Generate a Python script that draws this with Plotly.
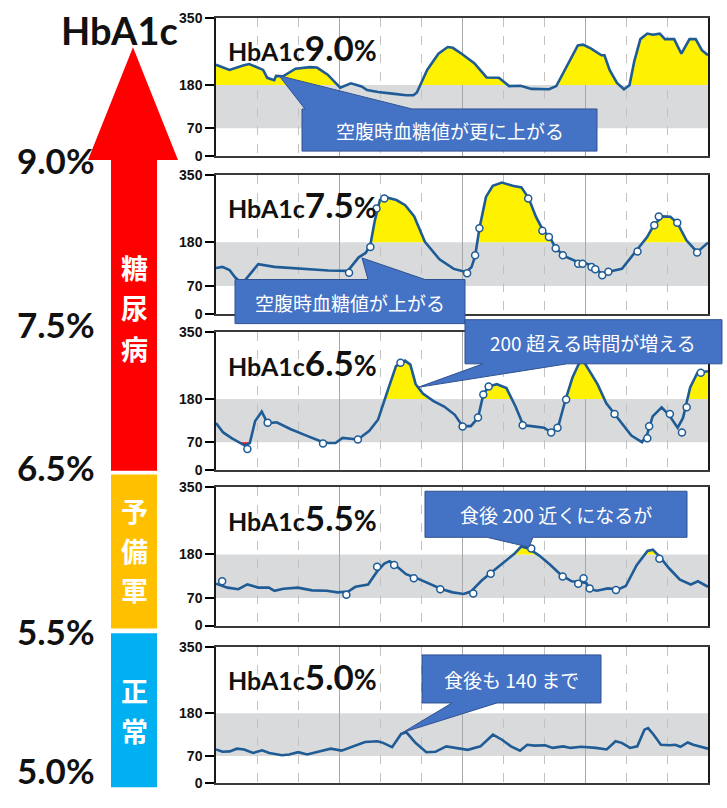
import plotly.graph_objects as go

# ---------------- data (hour of day, glucose mg/dL) ----------------
p1_hour = [0, 0.66, 1.36, 1.62, 2.3, 2.5, 2.84, 2.93, 3.27, 3.88, 4.58, 4.93, 5.45, 6.06, 6.58, 7.1, 7.37, 7.9, 8.6, 9.28,
           9.63, 9.8, 10.3, 10.85, 11.3, 11.55, 11.98, 12.6, 13.2, 13.8, 14.3, 14.86, 15.38, 16.25, 16.6, 17.1, 17.65,
           17.9, 18.3, 18.8, 18.95, 19.2, 19.56, 19.9, 20.17, 20.4, 20.7, 21.04, 21.3, 21.65, 21.9, 22.35, 22.7, 23.1,
           23.4, 23.7, 24]
p1_glucose = [231, 218, 230, 233, 218, 198, 192, 203, 202, 221, 225, 224, 206, 173, 184, 176, 167, 162, 158, 154,
              154, 161, 218, 259, 276, 274, 259, 235, 199, 198, 177, 178, 170, 169, 177, 226, 280,
              282, 272, 255, 255, 218, 185, 169, 179, 239, 296, 310, 307, 310, 296, 296, 259, 296,
              296, 268, 255]
p1_mark_hour = []
p1_mark_glucose = []

p2_hour = [0, 0.31, 0.66, 0.93, 1.28, 1.66, 2.06, 2.85, 3.72, 4.6, 5.47, 6.43, 6.96, 7.3, 7.53, 7.74, 8.0, 8.36, 8.8,
           9.23, 9.67, 10.19, 10.9, 11.6, 12.2, 12.46, 12.64, 12.85, 13.17, 13.5, 13.95, 14.47, 14.9, 15.26, 15.6,
           15.96, 16.28, 16.57, 17.0, 17.53, 17.88, 18.4, 18.58, 18.84, 19.1, 19.8, 20.5, 21.03, 21.38, 21.8, 22.16,
           22.5, 22.95, 23.47, 24]
p2_glucose = [115, 118, 110, 92, 76, 100, 125, 118, 115, 111, 109, 108, 142, 153, 173, 233, 287, 292, 286,
              273, 245, 181, 137, 113, 105, 117, 145, 215, 294, 322, 330, 322, 318, 290, 245,
              209, 193, 165, 145, 133, 129, 121, 113, 97, 105, 113, 157, 193, 225, 245, 244,
              229, 185, 155, 179]
p2_mark_hour = [6.49, 7.53, 7.83, 8.21, 12.25, 12.64, 12.85, 15.23, 15.92, 16.24, 16.57, 16.92, 17.67, 17.88, 18.32,
                18.5, 18.84, 19.14, 20.56, 21.38, 21.6, 22.5, 23.47]
p2_mark_glucose = [103, 168, 265, 290, 102, 147, 215, 290, 209, 193, 165, 147, 126, 126, 118,
                   112, 97, 106, 157, 223, 245, 229, 154]

p3_hour = [0, 0.35, 0.78, 1.22, 1.39, 1.65, 1.91, 2.23, 2.4, 2.52, 2.96, 3.65, 4.35, 5.04, 5.48, 5.83, 6.17, 6.92,
           7.48, 7.91, 8.35, 8.78, 9.22, 9.48, 9.74, 10.09, 10.61, 11.13, 11.65, 12.03, 12.43, 12.78, 13.04, 13.3,
           13.7, 14.17, 14.61, 14.99, 15.39, 16.0, 16.35, 16.7, 17.04, 17.39, 17.83, 18.17, 18.61, 19.04, 19.65,
           20.26, 20.78, 21.04, 21.3, 21.74, 22.09, 22.52, 22.78, 23.13, 23.48, 24]
p3_glucose = [119, 95, 80, 66, 62, 68, 124, 148, 128, 118, 121, 103, 88, 74, 68, 68, 81, 77,
              99, 128, 198, 264, 278, 268, 218, 194, 175, 161, 140, 111, 111, 132, 192, 212,
              218, 208, 161, 113, 111, 107, 95, 111, 177, 235, 285, 255, 218, 169, 128,
              87, 70, 91, 136, 159, 140, 107, 132, 210, 247, 251]
p3_mark_hour = [1.53, 2.52, 5.22, 6.92, 9.0, 12.03, 12.78, 13.04, 13.3, 14.96, 16.35, 16.66, 17.08, 19.44, 21.04,
                21.13, 22.14, 22.73, 22.96, 23.65]
p3_mark_glucose = [53, 120, 67, 77, 273, 110, 133, 192, 212, 113, 95, 107, 179, 142, 80,
                   111, 142, 95, 159, 247]

p4_hour = [0, 0.56, 1.09, 1.53, 2.06, 2.58, 2.85, 3.29, 3.99, 4.69, 5.4, 5.93, 6.45, 6.8, 7.42, 7.86, 8.21, 8.47,
           8.74, 9.27, 9.79, 10.32, 11.02, 11.55, 12.08, 12.43, 12.96, 13.49, 14.01, 14.54, 14.89, 15.24, 15.77,
           16.3, 16.83, 17.35, 17.7, 18.06, 18.23, 18.58, 19.11, 19.64, 19.99, 20.52, 21.05, 21.31, 21.66, 22.1,
           22.63, 23.16, 23.51, 24]
p4_glucose = [106, 96, 92, 104, 96, 96, 88, 93, 96, 89, 88, 84, 86, 98, 104, 137, 157, 163,
              153, 130, 120, 108, 92, 84, 80, 86, 114, 137, 159, 181, 200, 195, 177,
              154, 128, 112, 111, 108, 92, 88, 94, 92, 100, 153, 189, 192, 173, 145,
              116, 104, 112, 98]
p4_mark_hour = [0.3, 6.36, 7.86, 8.69, 9.65, 10.94, 12.55, 13.4, 15.38, 16.91, 17.67, 17.93, 18.23, 19.51, 21.63]
p4_mark_glucose = [112, 78, 149, 153, 120, 92, 81, 131, 195, 124, 106, 120, 94, 90, 169]

p5_hour = [0, 0.32, 0.67, 1.02, 1.37, 1.81, 2.25, 2.6, 3.22, 3.57, 4.01, 4.45, 4.98, 5.6, 6.12, 6.56, 7.27, 7.88,
           8.15, 8.59, 9.03, 9.29, 9.73, 10.26, 10.7, 11.23, 11.67, 12.28, 12.9, 13.51, 13.95, 14.39, 14.83, 15.18,
           15.54, 16.06, 16.42, 16.94, 17.3, 17.82, 18.53, 19.06, 19.49, 19.79, 20.2, 20.55, 20.9, 21.08, 21.35,
           21.7, 22.13, 22.4, 22.66, 23.01, 23.28, 24]
p5_glucose = [87, 81, 82, 89, 87, 78, 85, 78, 72, 74, 80, 74, 81, 89, 84, 93, 106, 108,
              104, 93, 127, 131, 104, 80, 81, 95, 91, 86, 95, 125, 112, 95, 84, 99,
              97, 98, 91, 95, 91, 94, 91, 87, 108, 104, 91, 95, 138, 142, 125,
              99, 98, 99, 94, 105, 99, 89]
p5_mark_hour = []
p5_mark_glucose = []

panel_labels = ["9.0", "7.5", "6.5", "5.5", "5.0"]
callout_texts = ["空腹時血糖値が更に上がる", "空腹時血糖値が上がる", "200 超える時間が増える",
                 "食後 200 近くになるが", "食後も 140 まで"]
scale_labels = ["9.0%", "7.5%", "6.5%", "5.5%", "5.0%"]
category_labels = ["糖尿病", "予備軍", "正常"]
y_ticks = [0, 70, 180, 350]
high_limit = 180
low_limit = 70

# ---------------- helpers ----------------
W, H = 727, 808


def X(p):
    return p / W


def Y(p):
    return 1 - p / H


def path(points):
    return "M " + " L ".join(f"{X(a):.5f},{Y(b):.5f}" for a, b in points) + " Z"


def densify(h, v, thr):
    xs, ys = [], []
    for i in range(len(h)):
        if i > 0:
            a, b = v[i - 1] - thr, v[i] - thr
            if a * b < 0:
                t = a / (a - b)
                xs.append(h[i - 1] + t * (h[i] - h[i - 1]))
                ys.append(thr)
        xs.append(h[i])
        ys.append(v[i])
    return xs, ys


def fill_polys(h, v, thr, above=True):
    xs, ys = densify(h, v, thr)
    px, py = [], []
    run = []

    def emit(r):
        if len(r) > 1 and any((p[1] > thr if above else p[1] < thr) for p in r):
            px.extend([p[0] for p in r] + [r[-1][0], r[0][0], None])
            py.extend([p[1] for p in r] + [thr, thr, None])

    for x, y in zip(xs, ys):
        inside = (y >= thr) if above else (y <= thr)
        if inside:
            run.append((x, y))
        else:
            emit(run)
            run = []
    emit(run)
    return px, py


LINE = "#1f5c96"
YELLOW = "#fff200"
panels = [
    (p1_hour, p1_glucose, p1_mark_hour, p1_mark_glucose),
    (p2_hour, p2_glucose, p2_mark_hour, p2_mark_glucose),
    (p3_hour, p3_glucose, p3_mark_hour, p3_mark_glucose),
    (p4_hour, p4_glucose, p4_mark_hour, p4_mark_glucose),
    (p5_hour, p5_glucose, p5_mark_hour, p5_mark_glucose),
]
tops = [10, 170, 331, 489, 652]
bottoms = [151, 312, 471, 630, 791]

fig = go.Figure()
layout = dict(width=W, height=H, margin=dict(l=0, r=0, t=0, b=0), paper_bgcolor="white",
              plot_bgcolor="white", showlegend=False)
shapes = []
annotations = []

for i, (hh, gg, mh, mg) in enumerate(panels):
    xa = "x" if i == 0 else f"x{i + 1}"
    ya = "y" if i == 0 else f"y{i + 1}"
    fx, fy = fill_polys(hh, gg, high_limit, True)
    if fx:
        fig.add_trace(go.Scatter(x=fx, y=fy, xaxis=xa, yaxis=ya, mode="lines",
                                 line=dict(width=0, color="rgba(0,0,0,0)"),
                                 fill="toself", fillcolor=YELLOW, hoverinfo="skip"))
    rx, ry = fill_polys(hh, gg, low_limit, False)
    if rx:
        fig.add_trace(go.Scatter(x=rx, y=ry, xaxis=xa, yaxis=ya, mode="lines",
                                 line=dict(width=0, color="rgba(0,0,0,0)"),
                                 fill="toself", fillcolor="#ff0000", hoverinfo="skip"))
    fig.add_trace(go.Scatter(x=hh, y=gg, xaxis=xa, yaxis=ya, mode="lines",
                             line=dict(color=LINE, width=2.6)))
    if mh:
        fig.add_trace(go.Scatter(x=mh, y=mg, xaxis=xa, yaxis=ya, mode="markers",
                                 marker=dict(symbol="circle", size=7, color="white",
                                             line=dict(color=LINE, width=1.5))))

    n = "" if i == 0 else str(i + 1)
    layout[f"xaxis{n}"] = dict(domain=[X(216), X(708)], range=[0, 24], anchor=ya, showticklabels=False,
                               ticks="", showline=True, linecolor="#3a3a3a", linewidth=1.5, mirror=True,
                               zeroline=False, showgrid=True, gridcolor="#a8a8a8", gridwidth=1.2,
                               tick0=0, dtick=6,
                               minor=dict(tick0=0, dtick=2, showgrid=True, gridcolor="#c2c2c2",
                                          griddash="dash", gridwidth=1))
    layout[f"yaxis{n}"] = dict(domain=[Y(bottoms[i]), Y(tops[i])], range=[0, 350], anchor=xa,
                               tickvals=y_ticks, ticks="outside", ticklen=9, tickwidth=1.5,
                               tickcolor="black", showline=True, linecolor="#1a1a1a", linewidth=1.5,
                               mirror=True, showgrid=False, zeroline=False,
                               tickfont=dict(family="Arial", size=14, color="#111", weight="bold"))
    shapes.append(dict(type="rect", xref=f"{xa} domain", yref=ya, x0=0, x1=1, y0=low_limit, y1=high_limit,
                       fillcolor="#d9dadc", line=dict(width=0), layer="below"))
    annotations.append(dict(
        xref="paper", yref="paper", x=X(226), y=Y(tops[i] + 30), xanchor="left", yanchor="middle",
        showarrow=False,
        text=(f"<b>HbA1c<span style='font-size:35px'>{panel_labels[i]}</span>"
              f"<span style='font-size:28px'>%</span></b>"),
        font=dict(family="Lato", size=25, color="#111")))

# ---------------- callouts ----------------
callouts = [
    ([(302, 146), (302, 103), (305, 103), (279, 69), (412, 103), (597, 103), (597, 146)], (450, 125)),
    ([(235, 322), (235, 277), (368, 277), (362, 255), (425, 277), (465, 277), (465, 322)], (350, 300)),
    ([(465, 318), (722, 318), (722, 363), (567, 363), (418, 387), (483, 363), (465, 363)], (593, 341)),
    ([(425, 493), (687, 493), (687, 540), (533, 540), (529, 550), (487, 540), (425, 540)], (556, 517)),
    ([(422, 660), (601, 660), (601, 709), (497, 709), (403, 739), (452, 709), (422, 709)], (511, 685)),
]
for (pts, (cx, cy)), txt in zip(callouts, callout_texts):
    shapes.append(dict(type="path", xref="paper", yref="paper", path=path(pts), fillcolor="#4472c4",
                       line=dict(color="#2f528f", width=1), layer="above"))
    annotations.append(dict(xref="paper", yref="paper", x=X(cx), y=Y(cy), xanchor="center", yanchor="middle",
                            showarrow=False, text=txt,
                            font=dict(family="Noto Sans CJK JP", size=19, color="white")))

# ---------------- left side scale ----------------
shapes.append(dict(type="path", xref="paper", yref="paper",
                   path=path([(133, 40), (178, 155), (157, 155), (157, 472), (111, 472), (111, 155), (88, 155)]),
                   fillcolor="#ff0000", line=dict(width=0), layer="above"))
shapes.append(dict(type="rect", xref="paper", yref="paper", x0=X(111), x1=X(157), y0=Y(633), y1=Y(476),
                   fillcolor="#ffc000", line=dict(width=0), layer="above"))
shapes.append(dict(type="rect", xref="paper", yref="paper", x0=X(111), x1=X(157), y0=Y(795), y1=Y(638),
                   fillcolor="#00b0f0", line=dict(width=0), layer="above"))

annotations.append(dict(xref="paper", yref="paper", x=X(119), y=Y(22), xanchor="center", yanchor="middle",
                        showarrow=False, text="<b>HbA1c</b>",
                        font=dict(family="Lato", size=38, color="#111")))
for lab, py in zip(scale_labels, [155, 322, 468, 636, 777]):
    annotations.append(dict(xref="paper", yref="paper", x=X(56), y=Y(py), xanchor="center", yanchor="middle",
                            showarrow=False, text=f"<b>{lab}</b>",
                            font=dict(family="Lato", size=35, color="#111")))
char_centres = [[265, 306, 347], [513, 553, 593], [696, 737]]
for lab, centres in zip(category_labels, char_centres):
    for ch, py in zip(lab, centres):
        annotations.append(dict(xref="paper", yref="paper", x=X(134), y=Y(py), xanchor="center",
                                yanchor="middle", showarrow=False, text=f"<b>{ch}</b>",
                                font=dict(family="Noto Sans CJK JP", size=27, color="white")))

layout["shapes"] = shapes
layout["annotations"] = annotations
fig.update_layout(**layout)
fig.write_html("out.html")
